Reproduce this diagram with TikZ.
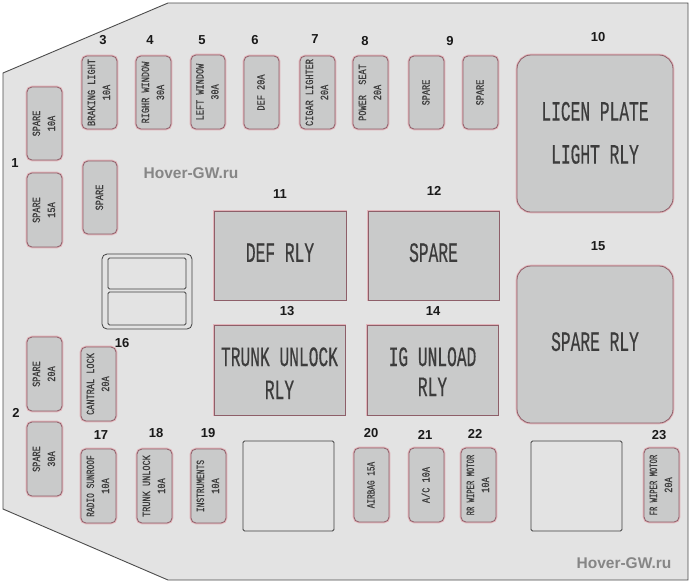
\documentclass[tikz,border=0pt]{standalone}
\usepackage{fontspec}
\setmainfont{Liberation Sans}
\newfontfamily\smallface[FakeStretch=0.78,FakeBold=0.6]{Liberation Mono}
\newfontfamily\bigface[FakeStretch=0.58,FakeBold=0.4]{Liberation Mono}
\definecolor{panel}{HTML}{E3E3E3}
\definecolor{cell}{HTML}{C9CACA}
\definecolor{halo}{HTML}{E2B4BA}
\definecolor{edge}{HTML}{8E5F69}
\definecolor{ink}{HTML}{3C3C3C}
\definecolor{mark}{HTML}{868686}
\tikzset{
  box/.style={fill=cell,draw=edge,line width=0.8pt,inner sep=0pt,outer sep=0pt,text=ink,align=center,
    preaction={draw=halo,line width=2.6pt}},
  fusebox/.style={box,rounded corners=5pt},
  relaysquare/.style={box,rounded corners=14pt},
  relayrect/.style={box},
  numlabel/.style={font=\fontsize{13}{15}\selectfont\bfseries,text=black!90,inner sep=0pt},
  blank/.style={draw=black!75,line width=0.8pt,rounded corners=1.5pt,fill=panel},
  watermark/.style={font=\fontsize{15.5}{18}\selectfont\bfseries,text=mark,inner sep=0pt}
}
\newcommand{\placebox}[7]{\node[#1,minimum width={(#5-#3)*1pt},minimum height={(#6-#4)*1pt}] (#2) at ({(#3+#5)/2},{(#4+#6)/2}) {#7};}
\newcommand{\fuse}[6]{\placebox{fusebox}{#1}{#2}{#3}{#4}{#5}{\rotatebox{90}{\smallface\fontsize{11}{15}\selectfont\begin{tabular}{@{}c@{}}#6\end{tabular}}}}
\newcommand{\narrowed}[2]{\scalebox{#1}[1]{#2}}
\newcommand{\bigtext}[2][32pt]{\bigface\fontsize{28}{#1}\selectfont\begin{tabular}{@{}c@{}}#2\end{tabular}}
\begin{document}
\begin{tikzpicture}[x=1pt,y=-1pt]
\useasboundingbox (0,0) rectangle (692,584);
\fill[white] (0,0) rectangle (692,584);
\draw[fill=panel,draw=black!70,line width=0.9pt] (3,73) -- (168,3) -- (688,3) -- (688,580) -- (168,580) -- (3,509) -- cycle;

% fuses
\fuse{f1a}{27}{87}{62}{160}{SPARE\\10A}
\fuse{f1b}{27}{173}{62}{247}{SPARE\\15A}
\fuse{f2a}{27}{337}{62}{411}{SPARE\\20A}
\fuse{f2b}{27}{422}{62}{496}{SPARE\\30A}
\fuse{f3}{82}{56}{117}{129}{BRAKING LIGHT\\10A}
\fuse{fmid}{83}{161}{117}{234}{SPARE}
\fuse{f4}{136}{56}{171}{129}{RIGHR WINDOW\\30A}
\fuse{f5}{191}{55}{225}{129}{LEFT WINDOW\\30A}
\fuse{f6}{244}{56}{279}{129}{DEF 20A}
\fuse{f7}{300}{56}{335}{129}{CIGAR LIGHTER\\20A}
\fuse{f8}{353}{56}{388}{129}{POWER\ \ SEAT\\20A}
\fuse{f9a}{409}{56}{444}{129}{SPARE}
\fuse{f9b}{463}{56}{498}{129}{SPARE}
\fuse{f16}{81}{347}{116}{421}{CANTRAL LOCK\\20A}
\fuse{f17}{81}{449}{116}{523}{\narrowed{0.92}{RADIO SUNROOF}\\10A}
\fuse{f18}{137}{449}{172}{523}{TRUNK UNLOCK\\10A}
\fuse{f19}{191}{449}{226}{523}{\narrowed{0.92}{INSTRUMENTS}\\10A}
\fuse{f20}{354}{448}{389}{522}{\narrowed{0.9}{AIRBAG 15A}}
\fuse{f21}{409}{448}{444}{522}{A/C 10A}
\fuse{f22}{461}{448}{496}{522}{\narrowed{0.84}{RR WIPER MOTOR}\\10A}
\fuse{f23}{644}{448}{679}{522}{\narrowed{0.84}{FR WIPER MOTOR}\\20A}

% relays
\placebox{relaysquare}{r10}{517}{55}{673}{212}{\bigtext[43pt]{LICEN PLATE\\LIGHT RLY}}
\placebox{relayrect}{r11}{214}{211}{346}{300}{\bigtext{DEF RLY}}
\placebox{relayrect}{r12}{368}{211}{499}{300}{\bigtext{SPARE}}
\placebox{relayrect}{r13}{214}{325}{345}{415}{\bigtext[33pt]{\rule{0pt}{35pt}TRUNK UNLOCK\\RLY}}
\placebox{relayrect}{r14}{367}{325}{498}{415}{\bigtext[30pt]{\rule{0pt}{31pt}IG UNLOAD\\RLY}}
\placebox{relaysquare}{r15}{517}{266}{673}{423}{\bigtext{SPARE RLY}}

% empty outlines
\node[blank,rounded corners=5pt,minimum width=90pt,minimum height=75pt] (holder) at (147,291.5) {};
\node[blank,minimum width=78pt,minimum height=31pt] (holdertop) at (147,273.5) {};
\node[blank,minimum width=78pt,minimum height=33pt] (holderbot) at (147,308.5) {};
\node[blank,minimum width=91pt,minimum height=90pt] (blankl) at (288.5,486) {};
\node[blank,minimum width=91pt,minimum height=90pt] (blankr) at (576.5,486) {};

% numbers
\node[numlabel] (n1) at (15,163) {1};
\node[numlabel] (n2) at (16,413) {2};
\node[numlabel] (n3) at (103,40) {3};
\node[numlabel] (n4) at (150,40) {4};
\node[numlabel] (n5) at (202,40) {5};
\node[numlabel] (n6) at (255,40) {6};
\node[numlabel] (n7) at (315,39) {7};
\node[numlabel] (n8) at (365,41) {8};
\node[numlabel] (n9) at (450,41) {9};
\node[numlabel] (n10) at (598,37) {10};
\node[numlabel] (n11) at (280,194) {11};
\node[numlabel] (n12) at (434,191) {12};
\node[numlabel] (n13) at (287,311) {13};
\node[numlabel] (n14) at (433,311) {14};
\node[numlabel] (n15) at (598,246) {15};
\node[numlabel] (n16) at (122,343) {16};
\node[numlabel] (n17) at (101,435) {17};
\node[numlabel] (n18) at (156,433) {18};
\node[numlabel] (n19) at (208,433) {19};
\node[numlabel] (n20) at (371,433) {20};
\node[numlabel] (n21) at (425,435) {21};
\node[numlabel] (n22) at (475,434) {22};
\node[numlabel] (n23) at (659,435) {23};

% watermarks
\node[watermark] (w1) at (191,173) {Hover-GW.ru};
\node[watermark] (w2) at (624,563) {Hover-GW.ru};
\end{tikzpicture}
\end{document}
